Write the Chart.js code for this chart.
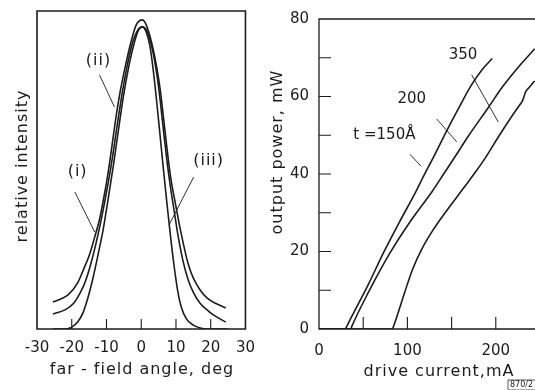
<!DOCTYPE html>
<html><head><meta charset="utf-8">
<script src="https://cdn.jsdelivr.net/npm/chart.js@4.4.1/dist/chart.umd.min.js"></script>
<style>
html,body{margin:0;padding:0;background:#fff;overflow:hidden;width:535px;height:390px;}
#c1{position:absolute;left:0;top:0;width:265px;height:390px;}
#c2{position:absolute;left:265px;top:0;width:280px;height:390px;}
</style></head><body>
<canvas id="c1" width="265" height="390"></canvas>
<canvas id="c2" width="280" height="390"></canvas>
<script>
// ---------- LEFT PANEL DATA: far-field profiles ----------
const angleMinorTicks = [-20, -10, 0, 10, 20];
const curveIAngle = [-25.4,-23,-21,-18.3,-16.5,-15,-13.5,-12,-11,-10,-9,-8,-7,-6,-4.5,-3,-1.5,0.3,1.5,3,4.5,5.5,6.5,7.5,8.5,10,11.5,13.5,15,17,19,21.5,24.3];
const curveIValue = [0.085,0.095,0.108,0.145,0.19,0.23,0.285,0.345,0.40,0.46,0.53,0.61,0.685,0.75,0.83,0.90,0.955,0.972,0.955,0.90,0.82,0.75,0.655,0.56,0.475,0.385,0.30,0.205,0.16,0.122,0.097,0.08,0.066];
const curveIIAngle = [-25.4,-22,-19.5,-17.5,-16,-14.5,-13,-11.5,-10,-8.5,-7,-5.5,-4,-2.5,-1,0.3,1.5,3,4.5,5.5,6.5,7.5,8.5,9.5,10.5,12,13.5,15,17,19.5,21.7,24.3];
const curveIIValue = [0.047,0.06,0.08,0.115,0.152,0.205,0.27,0.345,0.43,0.525,0.635,0.74,0.83,0.90,0.94,0.95,0.94,0.89,0.80,0.715,0.615,0.52,0.44,0.37,0.30,0.215,0.155,0.115,0.08,0.055,0.038,0.022];
const curveIIIAngle = [-25.4,-22,-20,-18.3,-16.8,-15.3,-14,-12.5,-11,-9.5,-8,-6.5,-5,-3.5,-2,-0.8,0.3,1.4,2.5,3.5,4.5,5.5,6.5,7.5,8.5,9.5,10.5,11.5,13,15,17,19,25.1];
const curveIIIValue = [0.0,0.0,0.006,0.022,0.05,0.10,0.155,0.23,0.31,0.41,0.515,0.63,0.74,0.83,0.90,0.94,0.95,0.935,0.89,0.81,0.71,0.60,0.49,0.385,0.285,0.195,0.12,0.07,0.032,0.012,0.003,0.0,0.0];
const profileLabels = [
  {text:'(ii)', x:-12.3, y:0.843},
  {text:'(i)', x:-18.3, y:0.494},
  {text:'(iii)', x:19.4, y:0.528}
];
const profilePointers = [
  [-12.0,0.799,-7.7,0.698],
  [-19.1,0.431,-13.4,0.305],
  [15.1,0.478,8.0,0.327]
];

// ---------- RIGHT PANEL DATA: L-I curves ----------
const currentMinorTicks = [50, 100, 150, 200];
const powerMinorTicks = [10, 20, 30, 40, 50, 60, 70];
const t150Current = [0,30,31,56,73,91,109,118,131,143,158,172,184,196];
const t150Power   = [0,0,0.5,11.6,19.7,27.6,35.2,39.3,45,50.5,57,62.8,66.8,69.8];
const t200Current = [0,36,37,56,80,104,128,141,154,169,192,207,229,244];
const t200Power   = [0,0,0.6,9.5,19.5,28,35.5,40,44.5,49.8,57.3,62.3,68.5,72.3];
const t350Current = [0,83,84,97,106,116,128,142,164,177,188,203,214,226,230,234,238,244];
const t350Power   = [0,0,0.5,9.5,15.5,20.5,25.2,29.8,36.5,40.5,44.1,49.6,53.5,57.5,58.8,61.3,62.4,64];
const thicknessLabels = [
  {text:'350', x:163, y:70.6},
  {text:'200', x:105, y:59.2},
  {text:'t =150Å', x:74, y:50}
];
const thicknessPointers = [
  [172.7,65.6,202.8,53.4],
  [133.1,54.2,155.8,48.3],
  [102.9,45.1,115.4,42.0]
];

const INK = '#1c1c1c';
const FONT = '"DejaVu Sans", "Liberation Sans", sans-serif';

function pts(xs, ys){ return xs.map((v,i)=>({x:v, y:ys[i]})); }
function ds(xs, ys){
  return {data: pts(xs, ys), borderColor: INK, borderWidth: 1.6, pointRadius: 0,
          cubicInterpolationMode: 'monotone', fill: false};
}

const deco = {
  id: 'deco',
  afterDatasetsDraw(chart, args, o){
    const {ctx, chartArea: a} = chart;
    const x = chart.scales.x, y = chart.scales.y;
    ctx.save();
    ctx.strokeStyle = INK;
    ctx.lineWidth = o.frameWidth;
    ctx.beginPath();
    ctx.rect(a.left, a.top, a.right - a.left, a.bottom - a.top);
    ctx.stroke();
    ctx.lineWidth = 1.1;
    ctx.beginPath();
    for (const v of o.xTicks){ const px = x.getPixelForValue(v); ctx.moveTo(px, a.bottom); ctx.lineTo(px, a.bottom - o.tickLen); }
    for (const v of o.yTicks){ const py = y.getPixelForValue(v); ctx.moveTo(a.left, py); ctx.lineTo(a.left + o.tickLen, py); }
    ctx.stroke();
    ctx.lineWidth = 0.9;
    for (const p of o.pointers){
      ctx.beginPath();
      ctx.moveTo(x.getPixelForValue(p[0]), y.getPixelForValue(p[1]));
      ctx.lineTo(x.getPixelForValue(p[2]), y.getPixelForValue(p[3]));
      ctx.stroke();
    }
    ctx.fillStyle = INK;
    ctx.textAlign = 'center';
    ctx.textBaseline = 'middle';
    ctx.font = o.labelFont + ' ' + FONT;
    ctx.letterSpacing = o.labelSpacing;
    for (const l of o.labels) ctx.fillText(l.text, x.getPixelForValue(l.x), y.getPixelForValue(l.y));
    // axis titles
    ctx.font = '16px ' + FONT;
    ctx.letterSpacing = '1px';
    ctx.textBaseline = 'alphabetic';
    ctx.fillText(o.xTitle.text, o.xTitle.x, o.xTitle.y);
    ctx.save();
    ctx.translate(o.yTitle.x, o.yTitle.y);
    ctx.rotate(-Math.PI/2);
    ctx.textBaseline = 'middle';
    ctx.fillText(o.yTitle.text, 0, 0);
    ctx.restore();
    if (o.tag){
      ctx.letterSpacing = '0px';
      ctx.font = '8px ' + FONT;
      ctx.textAlign = 'left';
      ctx.lineWidth = 0.7;
      ctx.fillText(o.tag.text, o.tag.x + 2, o.tag.y + 7);
      ctx.strokeRect(o.tag.x, o.tag.y, 40, 10);
    }
    ctx.restore();
  }
};

const tickFont = {family: FONT, size: 15};

new Chart(document.getElementById('c1'), {
  type: 'line',
  data: {datasets: [ds(curveIAngle, curveIValue), ds(curveIIAngle, curveIIValue), ds(curveIIIAngle, curveIIIValue)]},
  options: {
    responsive: false, animation: false, devicePixelRatio: 1,
    layout: {padding: {top: 11, right: 18, left: 0, bottom: 0}},
    plugins: {legend: {display: false}, tooltip: {enabled: false},
      deco: {frameWidth: 1.6, tickLen: 10, xTicks: angleMinorTicks, yTicks: [],
             labels: profileLabels, pointers: profilePointers,
             labelFont: '16px', labelSpacing: '1px',
             xTitle: {text: 'far - field angle, deg', x: 142, y: 374},
             yTitle: {text: 'relative intensity', x: 23, y: 166}}},
    scales: {
      x: {type: 'linear', min: -30, max: 30,
          ticks: {stepSize: 10, font: tickFont, color: INK, padding: 10, maxRotation: 0},
          grid: {display: false, drawTicks: false}, border: {display: false},
          afterFit(s){ s.height = 61; }},
      y: {type: 'linear', min: 0, max: 1,
          ticks: {display: false}, grid: {display: false, drawTicks: false}, border: {display: false},
          afterFit(s){ s.width = 37; }}
    }
  },
  plugins: [deco]
});

new Chart(document.getElementById('c2'), {
  type: 'line',
  data: {datasets: [ds(t150Current, t150Power), ds(t200Current, t200Power), ds(t350Current, t350Power)]},
  options: {
    responsive: false, animation: false, devicePixelRatio: 1,
    layout: {padding: {top: 13, right: 5, left: 0, bottom: 0}},
    plugins: {legend: {display: false}, tooltip: {enabled: false},
      deco: {frameWidth: 1.3, tickLen: 12, xTicks: currentMinorTicks, yTicks: powerMinorTicks,
             labels: thicknessLabels, pointers: thicknessPointers,
             labelFont: '15px', labelSpacing: '0px',
             xTitle: {text: 'drive current,mA', x: 174, y: 376},
             yTitle: {text: 'output power, mW', x: 13, y: 152},
             tag: {text: '870/2', x: 243, y: 380}}},
    scales: {
      x: {type: 'linear', min: 0, max: 250,
          ticks: {stepSize: 100, includeBounds: false, font: tickFont, color: INK, padding: 13, maxRotation: 0},
          grid: {display: false, drawTicks: false}, border: {display: false},
          afterFit(s){ s.height = 61; }},
      y: {type: 'linear', min: 0, max: 80,
          ticks: {stepSize: 20, font: tickFont, color: INK, padding: 10},
          grid: {display: false, drawTicks: false}, border: {display: false},
          afterFit(s){ s.width = 54; }}
    }
  },
  plugins: [deco]
});
</script>
</body></html>
